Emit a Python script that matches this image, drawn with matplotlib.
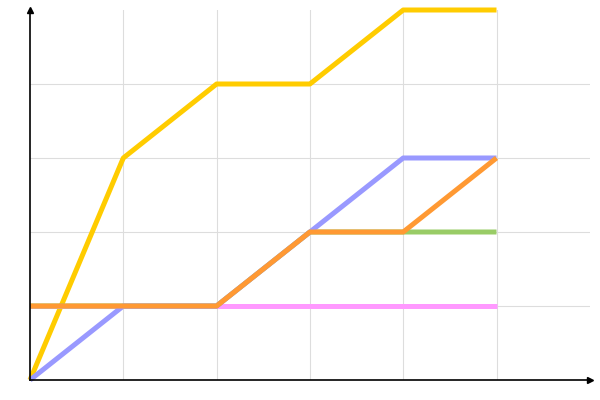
import matplotlib
matplotlib.use('Agg')
import matplotlib.pyplot as plt

# data
steps = [0, 1, 2, 3, 4, 5]
yellow = [0, 3, 4, 4, 5, 5]
pink = [1, 1, 1, 1, 1, 1]
green = [1, 1, 1, 2, 2, 2]
blue = [0, 1, 1, 2, 3, 3]
orange = [1, 1, 1, 2, 2, 3]

series = [
    (yellow, '#ffcc00'),
    (pink, '#ff99ff'),
    (green, '#99cc66'),
    (blue, '#9999ff'),
    (orange, '#ff9933'),
]

fig = plt.figure(figsize=(6, 4), dpi=100)
ax = fig.add_axes([0.05, 0.05, 0.933, 0.925])

for vals, col in series:
    ax.plot(steps, vals, color=col, linewidth=3.6, clip_on=False,
            solid_capstyle='butt', zorder=3)

ax.set_xlim(0, 6)
ax.set_ylim(0, 5)
ax.set_xticks([1, 2, 3, 4, 5])
ax.set_yticks([1, 2, 3, 4])
ax.tick_params(length=0, labelbottom=False, labelleft=False)
ax.grid(True, color='#dddddd', linewidth=0.8)
ax.set_axisbelow(True)

for side in ['top', 'right']:
    ax.spines[side].set_visible(False)
for side in ['left', 'bottom']:
    ax.spines[side].set_linewidth(1.2)
    ax.spines[side].set_zorder(4)

# arrow heads on the axes
ax.plot(1, 0, marker='>', color='black', markersize=4, transform=ax.transAxes, clip_on=False, zorder=5)
ax.plot(0, 1, marker='^', color='black', markersize=4, transform=ax.transAxes, clip_on=False, zorder=5)

fig.savefig('out.png', dpi=100)
